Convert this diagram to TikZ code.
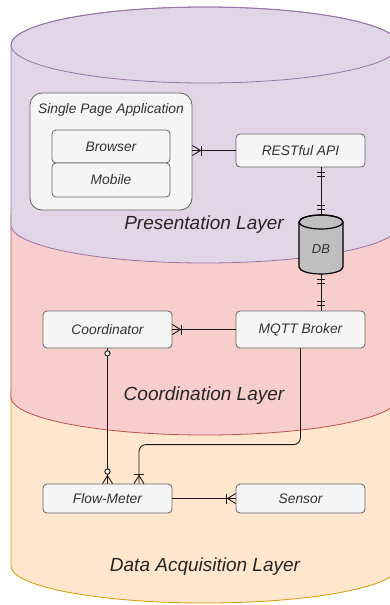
\documentclass[tikz,border=0pt]{standalone}
\usepackage{fontspec}
\setmainfont{Liberation Sans}
\usetikzlibrary{calc}
\definecolor{purfill}{HTML}{E1D5E7}
\definecolor{purline}{HTML}{9673A6}
\definecolor{redfill}{HTML}{F8CECC}
\definecolor{redline}{HTML}{B85450}
\definecolor{orafill}{HTML}{FFE6CC}
\definecolor{oraline}{HTML}{D79B00}
\definecolor{boxfill}{HTML}{F5F5F5}
\definecolor{boxline}{HTML}{666666}
\definecolor{txt}{HTML}{333333}
\definecolor{dbfill}{HTML}{BFBFBF}
\begin{document}
\begin{tikzpicture}[x=1pt,y=-1pt,
  nodefont/.style={font=\fontsize{13.8}{16}\selectfont\itshape},
  layerfont/.style={font=\fontsize{19}{22}\selectfont\itshape, text=black!85},
  box/.style={draw=boxline, fill=boxfill, rounded corners=4pt, line width=0.8pt,
    text=txt, nodefont, inner sep=0pt},
  conn/.style={draw=black!90, line width=0.9pt},
  crowbar/.pic={\draw[conn] (0,-5) -- (8,0) -- (0,5); \draw[conn] (9,-5) -- (9,5);},
  crowzero/.pic={\draw[conn] (0,-5) -- (8,0) -- (0,5); \draw[conn, fill=white] (12,0) circle[radius=2.7pt];},
  twobar/.pic={\draw[conn] (5,-4) -- (5,4) (9,-4) -- (9,4);},
  zerocirc/.pic={\draw[conn, fill=white] (5,0) circle[radius=2.6pt];}
]
\useasboundingbox (0,0) rectangle (390,605);
\clip (0,0) rectangle (390,605);

% Data acquisition layer (orange)
\path[fill=orafill, draw=oraline, line width=0.8pt]
  (11,390) -- (11,566) arc[start angle=180, end angle=360, x radius=194pt, y radius=37pt]
  -- (399,390) arc[start angle=0, end angle=180, x radius=194pt, y radius=37pt] -- cycle;
% Coordination layer (red)
\path[fill=redfill, draw=redline, line width=0.8pt]
  (11,215) -- (11,397) arc[start angle=180, end angle=360, x radius=194pt, y radius=38pt]
  -- (399,215) arc[start angle=0, end angle=180, x radius=194pt, y radius=38pt] -- cycle;
% Presentation layer (purple)
\path[fill=purfill, draw=purline, line width=0.8pt]
  (11,45) -- (11,225) arc[start angle=180, end angle=360, x radius=194pt, y radius=38pt]
  -- (399,45) arc[start angle=0, end angle=180, x radius=194pt, y radius=38pt] -- cycle;
\draw[purline, line width=0.8pt] (205,45) ellipse[x radius=194pt, y radius=38pt];

% Layer labels
\node[layerfont] (lpres) at (204,225) {Presentation Layer};
\node[layerfont] (lcoord) at (204,396) {Coordination Layer};
\node[layerfont] (ldata) at (205,567) {Data Acquisition Layer};

% SPA container
\node[box, rounded corners=12pt, minimum width=162pt, minimum height=117pt] (spa) at (111,151.5) {};
\node[nodefont, text=txt] (spalabel) at (111,110) {Single Page Application};
\node[box, minimum width=118pt, minimum height=33pt] (browser) at (111,146.5) {Browser};
\node[box, minimum width=118pt, minimum height=34pt] (mobile) at (111,180) {Mobile};

% Other nodes
\node[box, minimum width=129pt, minimum height=33pt] (rest) at (300.5,150.5) {RESTful API};
\node[box, minimum width=129pt, minimum height=37pt] (coord) at (107.5,329.5) {Coordinator};
\node[box, minimum width=129pt, minimum height=37pt] (mqtt) at (300.5,329.5) {MQTT Broker};
\node[box, minimum width=129pt, minimum height=29pt] (flow) at (107.5,498.5) {Flow-Meter};
\node[box, minimum width=129pt, minimum height=29pt] (sensor) at (300.5,498.5) {Sensor};

% DB cylinder
\node[minimum width=44pt, minimum height=59pt, inner sep=0pt] (db) at (321,244.5) {};
\path[fill=dbfill, draw=black, line width=1.2pt]
  (299,222) -- (299,267) arc[start angle=180, end angle=360, x radius=22pt, y radius=7pt]
  -- (343,222) arc[start angle=0, end angle=180, x radius=22pt, y radius=7pt] -- cycle;
\draw[black, line width=1.2pt] (321,222) ellipse[x radius=22pt, y radius=7pt];
\node[font=\fontsize{13}{15}\selectfont\itshape, text=txt] (dbtext) at ([yshift=-5pt]db.center) {DB};

% Connectors
\draw[conn] (rest.west) -- (rest.west -| spa.east);
\draw[conn] (db.north |- rest.south) -- (db.north);
\draw[conn] (db.south) -- (db.south |- mqtt.north);
\draw[conn] (mqtt.west) -- (mqtt.west -| coord.east);
\draw[conn] (coord.south) -- (flow.north);
\coordinate (fmin) at ([xshift=31.5pt]flow.north);
\draw[conn, rounded corners=7pt] (mqtt.south) |- ($(fmin)+(0,-39)$) -- (fmin);
\draw[conn] (flow.east) -- (sensor.west);

% ER markers
\pic at (rest.west -| spa.east) {crowbar};
\pic[rotate=-90] at (db.north |- rest.south) {twobar};
\pic[rotate=90] at (db.north) {twobar};
\pic[rotate=-90] at (db.south) {twobar};
\pic[rotate=90] at (db.south |- mqtt.north) {twobar};
\pic at (mqtt.west -| coord.east) {crowbar};
\pic[rotate=-90] at (coord.south) {zerocirc};
\pic[rotate=90] at (flow.north) {crowzero};
\pic[rotate=90] at (fmin) {crowbar};
\pic[rotate=180] at (sensor.west) {crowbar};
\end{tikzpicture}
\end{document}
